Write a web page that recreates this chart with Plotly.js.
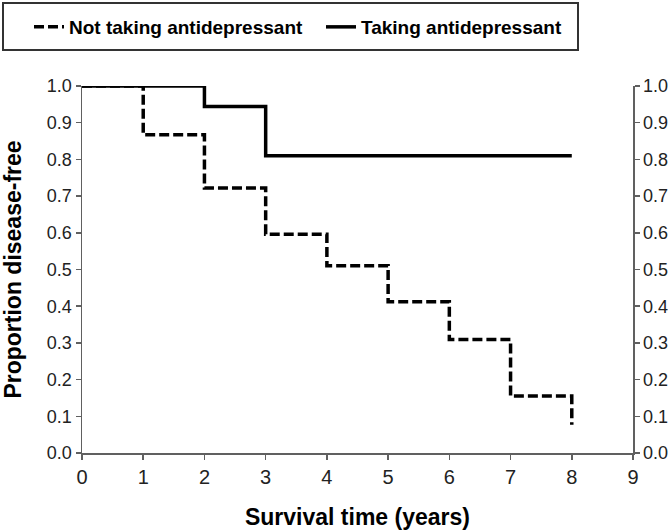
<!DOCTYPE html>
<html>
<head>
<meta charset="utf-8">
<script src="https://cdn.plot.ly/plotly-3.0.1.min.js"></script>
<style>html,body{margin:0;padding:0;background:#fff;}#chart{width:668px;height:531px;}</style>
</head>
<body>
<div id="chart"></div>
<script>
const seriesNames = ["Not taking antidepressant", "Taking antidepressant"];
const notTakingTime = [0, 1, 2, 3, 4, 5, 6, 7, 8];
const notTakingProp = [1.0, 0.867, 0.722, 0.596, 0.51, 0.412, 0.309, 0.155, 0.077];
const takingTime = [0, 2, 3, 8];
const takingProp = [1.0, 0.944, 0.81, 0.81];
const xTicks = [0, 1, 2, 3, 4, 5, 6, 7, 8, 9];
const yTicks = [0, 0.1, 0.2, 0.3, 0.4, 0.5, 0.6, 0.7, 0.8, 0.9, 1.0];

const FONT = '"Liberation Sans Narrow", "Arial Narrow", "Liberation Sans", Arial, sans-serif';
const axisCol = '#606060';

const traces = [
  {x: notTakingTime, y: notTakingProp, name: seriesNames[0], mode: 'lines',
   line: {shape: 'hv', color: '#000', width: 3.5, dash: '10px,4px'}},
  {x: takingTime, y: takingProp, name: seriesNames[1], mode: 'lines', yaxis: 'y2',
   line: {shape: 'hv', color: '#000', width: 3.5}}
];

const yaxisCommon = {
  range: [0, 1], tickvals: yTicks, ticktext: yTicks.map(v => v.toFixed(1)),
  showline: true, linecolor: axisCol, linewidth: 1.5, ticks: 'outside', ticklen: 5,
  tickcolor: axisCol, tickwidth: 1.5, showgrid: false, zeroline: false, automargin: false,
  tickfont: {family: FONT, size: 18, color: '#222'}
};

const P = {l: 82, r: 35, t: 86, b: 78, W: 668, H: 531};
const pw = P.W - P.l - P.r, ph = P.H - P.t - P.b;
const px2x = v => (v - P.l) / pw;
const px2y = v => (P.H - P.b - v) / ph;

const layout = {
  width: P.W, height: P.H,
  margin: {l: P.l, r: P.r, t: P.t, b: P.b, autoexpand: false},
  paper_bgcolor: '#fff', plot_bgcolor: '#fff',
  font: {family: FONT, color: '#000'},
  showlegend: true,
  legend: {
    orientation: 'h', x: px2x(29), y: px2y(27), xanchor: 'left', yanchor: 'middle',
    borderwidth: 0, bgcolor: 'rgba(0,0,0,0)',
    font: {family: FONT, size: 19, color: '#000', weight: 'bold'},
    itemwidth: 30, entrywidth: 247
  },
  shapes: [{type: 'rect', xref: 'paper', yref: 'paper',
    x0: px2x(3), x1: px2x(578), y0: px2y(50), y1: px2y(3),
    line: {color: '#333', width: 2}, fillcolor: 'rgba(0,0,0,0)'}],
  xaxis: {
    range: [0, 9], tickvals: xTicks, showline: true, linecolor: axisCol, linewidth: 1.5,
    ticks: 'outside', ticklen: 5, tickcolor: axisCol, tickwidth: 1.5,
    showgrid: false, zeroline: false, automargin: false,
    tickfont: {family: FONT, size: 20, color: '#222'},
    title: {text: '<b>Survival time (years)</b>', font: {family: FONT, size: 23, color: '#000'}, standoff: 22}
  },
  yaxis: Object.assign({}, yaxisCommon, {
    title: {text: '<b>Proportion disease-free</b>', font: {family: FONT, size: 23, color: '#000'}, standoff: 28}
  }),
  yaxis2: Object.assign({}, yaxisCommon, {overlaying: 'y', side: 'right', anchor: 'x'})
};

Plotly.newPlot('chart', traces, layout, {staticPlot: true, displayModeBar: false});
</script>
</body>
</html>
